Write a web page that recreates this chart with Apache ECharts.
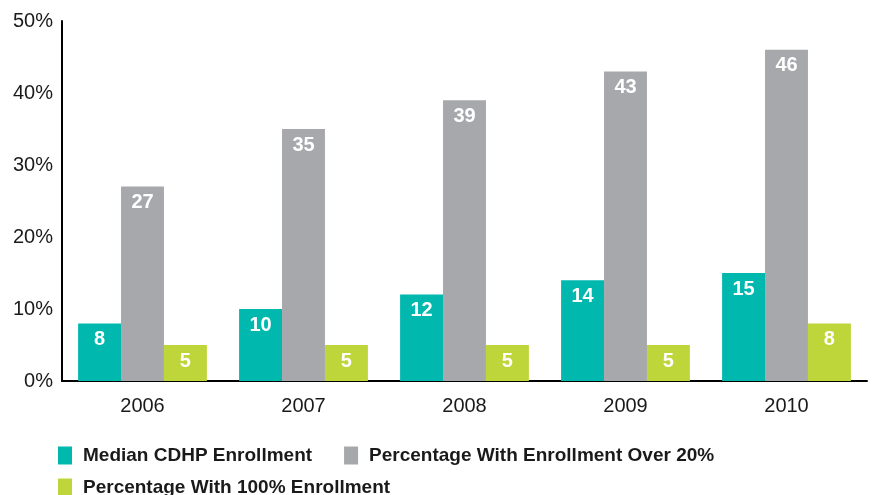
<!DOCTYPE html>
<html>
<head>
<meta charset="utf-8">
<script src="https://cdn.jsdelivr.net/npm/echarts@6/dist/echarts.min.js"></script>
<style>
  html, body { margin: 0; padding: 0; background: #fff; }
  #chart { width: 872px; height: 495px; }
</style>
</head>
<body>
<div id="chart"></div>
<script>
// Enrollment survey results by year
const years = ['2006', '2007', '2008', '2009', '2010'];
const medianEnrollment = [8, 10, 12, 14, 15];
const over20Pct = [27, 35, 39, 43, 46];
const full100Pct = [5, 5, 5, 5, 8];
const seriesNames = [
  'Median CDHP Enrollment',
  'Percentage With Enrollment Over 20%',
  'Percentage With 100% Enrollment'
];
const colors = ['#00B8AE', '#A7A8AC', '#BFD63A'];

const chart = echarts.init(document.getElementById('chart'));

const valueLabel = {
  show: true,
  position: 'insideTop',
  distance: 6,
  color: '#fff',
  fontFamily: 'Liberation Sans, Arial, sans-serif',
  fontWeight: 'bold',
  fontSize: 20
};

function barSeries(name, data, color) {
  return {
    name: name,
    type: 'bar',
    data: data,
    itemStyle: { color: color },
    barGap: '0%',
    barCategoryGap: '20%',
    label: valueLabel
  };
}

const legendText = {
  fontFamily: 'Liberation Sans Narrow, Arial Narrow, Liberation Sans, sans-serif',
  fontWeight: 'bold',
  fontSize: 19,
  color: '#1a1a1a',
  padding: [0, 0, 0, 6]
};

chart.setOption({
  animation: false,
  grid: { left: 62, right: 5, top: 21, bottom: 114 },
  legend: [
    {
      data: [seriesNames[0], seriesNames[1]],
      left: 58, top: 446, padding: 0,
      itemWidth: 14, itemHeight: 18, itemGap: 32,
      icon: 'rect',
      textStyle: legendText
    },
    {
      data: [seriesNames[2]],
      left: 58, top: 478, padding: 0,
      itemWidth: 14, itemHeight: 18,
      icon: 'rect',
      textStyle: legendText
    }
  ],
  xAxis: {
    type: 'category',
    data: years,
    axisLine: { lineStyle: { color: '#000', width: 2 } },
    axisTick: { show: false },
    axisLabel: {
      margin: 15,
      fontFamily: 'Liberation Sans, Arial, sans-serif',
      fontSize: 20,
      color: '#1a1a1a'
    }
  },
  yAxis: {
    type: 'value',
    min: 0, max: 50, interval: 10,
    axisLine: { show: true, lineStyle: { color: '#000', width: 2 } },
    axisTick: { show: false },
    splitLine: { show: false },
    axisLabel: {
      formatter: '{value}%',
      margin: 9,
      fontFamily: 'Liberation Sans, Arial, sans-serif',
      fontSize: 20,
      color: '#1a1a1a'
    }
  },
  series: [
    barSeries(seriesNames[0], medianEnrollment, colors[0]),
    barSeries(seriesNames[1], over20Pct, colors[1]),
    barSeries(seriesNames[2], full100Pct, colors[2])
  ]
});
</script>
</body>
</html>
